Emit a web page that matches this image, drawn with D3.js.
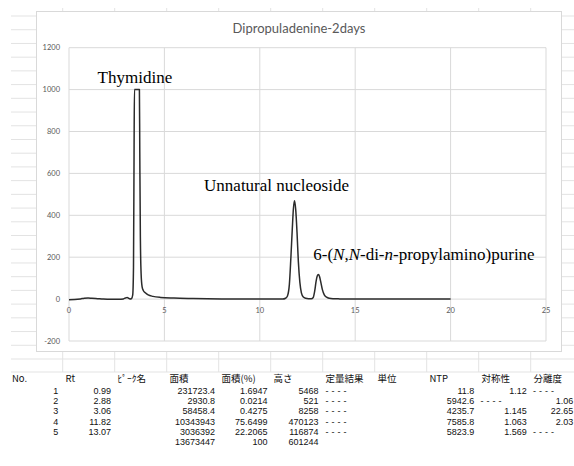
<!DOCTYPE html>
<html><head><meta charset="utf-8">
<script src="https://cdn.jsdelivr.net/npm/d3@7"></script>
<style>html,body{margin:0;padding:0;background:#fff;}svg{display:block;}</style>
</head><body>
<svg id="c" width="574" height="466"></svg>
<script>
// ---- chromatogram data (retention time, min / signal, mV) ----
const rtTime = [0, 0.3, 0.6, 0.8, 1.0, 1.2, 1.5, 1.8, 2.2, 2.6, 2.85, 2.95, 3.05, 3.12, 3.2, 3.28, 3.34, 3.38, 3.41, 3.43, 3.69, 3.71, 3.74, 3.78, 3.83, 3.9, 4.0, 4.15, 4.4, 4.8, 5.5, 6.5, 8, 10, 11.2, 11.35, 11.45, 11.55, 11.63, 11.7, 11.76, 11.82, 11.88, 11.95, 12.02, 12.1, 12.18, 12.28, 12.4, 12.55, 12.7, 12.8, 12.88, 12.95, 13.01, 13.07, 13.13, 13.2, 13.28, 13.38, 13.5, 13.65, 13.85, 14.2, 15, 16.5, 20];
const signal = [-3, -2, 1, 4, 5, 4, 2, 0, -1, -1, 1, 5, 8, 4, 1, 3, 20, 150, 700, 1000, 1000, 700, 300, 120, 60, 40, 30, 20, 13, 8, 5, 3, 1, 0, 0, 4, 15, 70, 200, 330, 430, 470, 430, 320, 180, 80, 30, 10, 4, 2, 2, 8, 40, 85, 110, 117, 108, 80, 45, 20, 9, 4, 2, 1, 0, 0, 0];

const chartTitle = "Dipropuladenine-2days";
const xTicks = [0, 5, 10, 15, 20, 25];
const yTicks = [-200, 0, 200, 400, 600, 800, 1000, 1200];
const annotations = [
  {parts: ["Thymidine"], x: 1.5, y: 1033},
  {parts: ["Unnatural nucleoside"], x: 7.08, y: 517},
  {parts: ["6-(", "i:N", ",", "i:N", "-di-", "i:n", "-propylamino)purine"], x: 12.8, y: 187}
];

// ---- peak table ----
const tableHeaders = ["No.", "Rt", "ﾋﾟｰｸ名", "面積", "面積(%)", "高さ", "定量結果", "単位", "NTP", "対称性", "分離度"];
const colNo      = ["1", "2", "3", "4", "5", ""];
const colRt      = ["0.99", "2.88", "3.06", "11.82", "13.07", ""];
const colName    = ["", "", "", "", "", ""];
const colArea    = ["231723.4", "2930.8", "58458.4", "10343943", "3036392", "13673447"];
const colAreaPct = ["1.6947", "0.0214", "0.4275", "75.6499", "22.2065", "100"];
const colHeight  = ["5468", "521", "8258", "470123", "116874", "601244"];
const colQuant   = ["----", "----", "----", "----", "----", ""];
const colUnit    = ["", "", "", "", "", ""];
const colNTP     = ["11.8", "5942.6", "4235.7", "7585.8", "5823.9", ""];
const colSym     = ["1.12", "----", "1.145", "1.063", "1.569", ""];
const colRes     = ["----", "1.06", "22.65", "2.03", "----", ""];

const svg = d3.select("#c");
svg.append("rect").attr("width", 574).attr("height", 466).attr("fill", "#fff");

// ---- spreadsheet background grid ----
const sheetLine = "#e3e3e3";
const rowYs = d3.range(0, 25).map(k => 16 + 13.72 * k);
const bg = svg.append("g").attr("stroke", sheetLine).attr("stroke-width", 1);
rowYs.forEach(yy => {
  bg.append("line").attr("x1", 11).attr("x2", 36.5).attr("y1", yy).attr("y2", yy);
  bg.append("line").attr("x1", 562).attr("x2", 574).attr("y1", yy).attr("y2", yy);
});
const colXs = d3.range(0, 10).map(k => 62.7 + 52 * k);
colXs.forEach(xx => {
  bg.append("line").attr("x1", xx).attr("x2", xx).attr("y1", 8).attr("y2", 11.5);
  bg.append("line").attr("x1", xx).attr("x2", xx).attr("y1", 352).attr("y2", 372);
});
[359, 372].forEach(yy => bg.append("line").attr("x1", 11).attr("x2", 574).attr("y1", yy).attr("y2", yy));

// ---- chart box ----
svg.append("rect").attr("x", 36.5).attr("y", 11.5).attr("width", 525).attr("height", 340)
  .attr("fill", "#fff").attr("stroke", "#d9d9d9").attr("stroke-width", 1);

svg.append("text").attr("x", 299).attr("y", 32.5).attr("text-anchor", "middle")
  .attr("font-family", "Lato, 'Open Sans', sans-serif").attr("font-size", 13).attr("fill", "#595959")
  .text(chartTitle);

const x = d3.scaleLinear().domain([0, 25]).range([69, 546]);
const y = d3.scaleLinear().domain([-200, 1200]).range([341, 47.7]);

const grid = svg.append("g").attr("stroke", "#d9d9d9").attr("stroke-width", 1);
yTicks.forEach(t => grid.append("line").attr("x1", x(0)).attr("x2", x(25)).attr("y1", y(t)).attr("y2", y(t)));
xTicks.forEach(t => grid.append("line").attr("x1", x(t)).attr("x2", x(t)).attr("y1", y(1200)).attr("y2", y(-200)));

const tickFont = "Lato, 'Open Sans', sans-serif";
svg.append("g").selectAll("text").data(yTicks).join("text")
  .attr("x", 60).attr("y", d => y(d)).attr("dy", "0.35em").attr("text-anchor", "end")
  .attr("font-family", tickFont).attr("font-size", 7.5).attr("fill", "#595959")
  .text(d => d);
svg.append("g").selectAll("text").data(xTicks).join("text")
  .attr("x", d => x(d)).attr("y", 310.7).attr("dy", "0.35em").attr("text-anchor", "middle")
  .attr("font-family", tickFont).attr("font-size", 7.5).attr("fill", "#595959")
  .text(d => d);

// ---- trace ----
const pts = rtTime.map((t, i) => [t, signal[i]]);
const line = d3.line().x(d => x(d[0])).y(d => y(d[1])).curve(d3.curveMonotoneX);
svg.append("path").attr("d", line(pts)).attr("fill", "none")
  .attr("stroke", "#2b2b2b").attr("stroke-width", 1.5).attr("stroke-linejoin", "round");

// ---- annotations ----
annotations.forEach(a => {
  const t = svg.append("text").attr("x", x(a.x)).attr("y", y(a.y))
    .attr("font-family", "'Liberation Serif', 'Times New Roman', serif").attr("font-size", 17).attr("fill", "#000");
  a.parts.forEach(s => {
    if (s.startsWith("i:")) t.append("tspan").attr("font-style", "italic").text(s.slice(2));
    else t.append("tspan").text(s);
  });
});

// ---- table ----
const hFont = "'Noto Sans CJK JP', sans-serif";
const nFont = "'Liberation Sans', Arial, sans-serif";
const headerX = [12, 65.5, 117.5, 169.5, 221.5, 273.5, 325.5, 377.5, 429.5, 481.5, 533.5];
svg.append("g").selectAll("text").data(tableHeaders).join("text")
  .attr("x", (d, i) => headerX[i]).attr("y", 378.8).attr("dy", "0.36em")
  .attr("font-family", hFont).attr("font-size", 9.5).attr("fill", "#111").text(d => d);

const rowY = d3.range(6).map(k => 390.7 + 10.2 * k);
const cols = [
  {vals: colNo, right: 58.3, left: 12},
  {vals: colRt, right: 111, left: 65.5},
  {vals: colName, right: 163, left: 117.5},
  {vals: colArea, right: 215, left: 169.5},
  {vals: colAreaPct, right: 267.5, left: 221.5},
  {vals: colHeight, right: 318.5, left: 273.5},
  {vals: colQuant, right: 370, left: 325.5},
  {vals: colUnit, right: 422, left: 377.5},
  {vals: colNTP, right: 474.3, left: 429.5},
  {vals: colSym, right: 526.7, left: 480.5},
  {vals: colRes, right: 573.3, left: 533}
];
const tg = svg.append("g").attr("font-family", nFont).attr("font-size", 9).attr("fill", "#111");
cols.forEach(c => {
  c.vals.forEach((v, i) => {
    if (!v) return;
    if (v === "----") {
      tg.append("text").attr("x", c.left).attr("y", rowY[i]).attr("dy", "0.36em")
        .attr("textLength", 21).attr("lengthAdjust", "spacing").text(v);
    } else {
      tg.append("text").attr("x", c.right).attr("y", rowY[i]).attr("dy", "0.36em")
        .attr("text-anchor", "end").text(v);
    }
  });
});
</script>
</body></html>
